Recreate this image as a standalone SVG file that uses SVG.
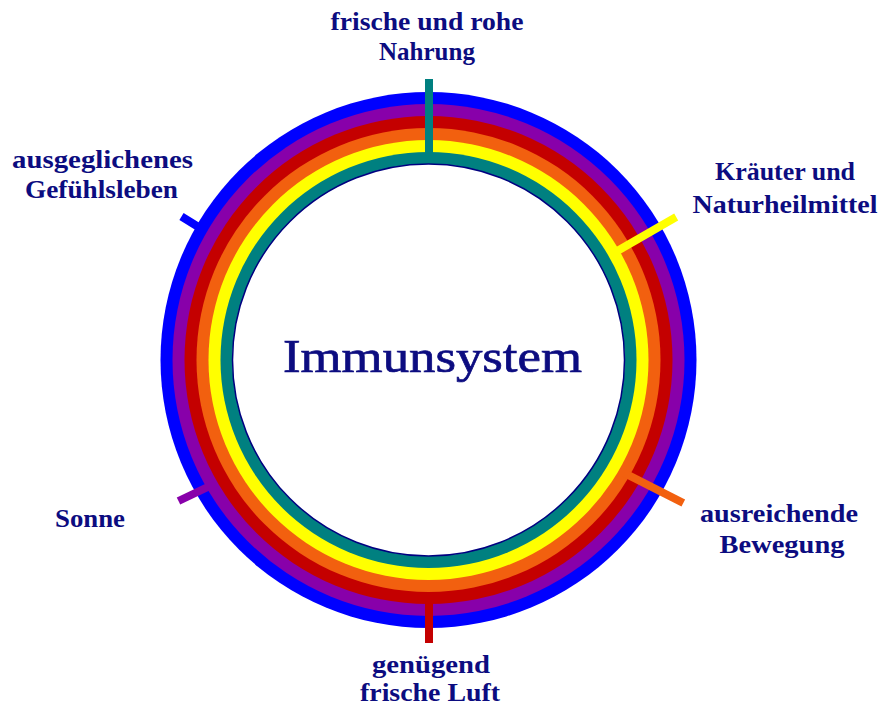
<svg xmlns="http://www.w3.org/2000/svg" width="882" height="709" viewBox="0 0 882 709">
<style>
.lbl{font-family:"Liberation Serif","Times New Roman",serif;font-weight:bold;font-size:25px;fill:#0c0c80;text-anchor:middle}
.title{font-family:"Liberation Serif","Times New Roman",serif;font-size:46px;fill:#0c0c80;stroke:#0c0c80;stroke-width:0.7;text-anchor:middle}
.tick{stroke-width:8;stroke-linecap:butt;fill:none}
</style>
<rect width="882" height="709" fill="#ffffff"/>
<g id="rings">
<circle cx="428.5" cy="360" r="268" fill="#0000ff"/>
<circle cx="428.5" cy="360" r="256" fill="#8800aa"/>
<circle cx="428.5" cy="360" r="244" fill="#c40000"/>
<circle cx="428.5" cy="360" r="232" fill="#f2600f"/>
<circle cx="428.5" cy="360" r="220" fill="#ffff00"/>
<circle cx="428.5" cy="360" r="208" fill="#008080"/>
<circle cx="428.5" cy="360" r="196" fill="#ffffff" stroke="#000080" stroke-width="1.5"/>
</g>
<g id="connectors">
<line class="tick" x1="429" y1="158" x2="429" y2="79" stroke="#008080"/>
<line class="tick" x1="613.8" y1="253" x2="676.2" y2="217" stroke="#ffff00"/>
<line class="tick" x1="624.2" y1="473" x2="683.3" y2="503" stroke="#f2600f"/>
<line class="tick" x1="429" y1="598" x2="429" y2="643" stroke="#c40000"/>
<line class="tick" x1="212" y1="485" x2="178.5" y2="501" stroke="#8800aa"/>
<line class="tick" x1="202.5" y1="229.5" x2="181.5" y2="216.5" stroke="#0000ff"/>
</g>
<g id="center"><text class="title" x="432.5" y="372" textLength="299" lengthAdjust="spacingAndGlyphs">Immunsystem</text></g>
<g id="n-nahrung">
<text class="lbl" x="427" y="30" textLength="193" lengthAdjust="spacingAndGlyphs">frische und rohe</text>
<text class="lbl" x="427" y="60">Nahrung</text>
</g>
<g id="n-kraeuter">
<text class="lbl" x="785" y="180" textLength="140" lengthAdjust="spacingAndGlyphs">Kräuter und</text>
<text class="lbl" x="785" y="213" textLength="185" lengthAdjust="spacingAndGlyphs">Naturheilmittel</text>
</g>
<g id="n-bewegung">
<text class="lbl" x="779" y="522" textLength="158" lengthAdjust="spacingAndGlyphs">ausreichende</text>
<text class="lbl" x="782" y="553" textLength="125" lengthAdjust="spacingAndGlyphs">Bewegung</text>
</g>
<g id="n-luft">
<text class="lbl" x="431" y="673" textLength="118" lengthAdjust="spacingAndGlyphs">genügend</text>
<text class="lbl" x="430" y="701" textLength="140" lengthAdjust="spacingAndGlyphs">frische Luft</text>
</g>
<g id="n-sonne">
<text class="lbl" x="90" y="527" textLength="70" lengthAdjust="spacingAndGlyphs">Sonne</text>
</g>
<g id="n-gefuehl">
<text class="lbl" x="102.5" y="168" textLength="181" lengthAdjust="spacingAndGlyphs">ausgeglichenes</text>
<text class="lbl" x="101.5" y="198" textLength="153" lengthAdjust="spacingAndGlyphs">Gefühlsleben</text>
</g>
</svg>
